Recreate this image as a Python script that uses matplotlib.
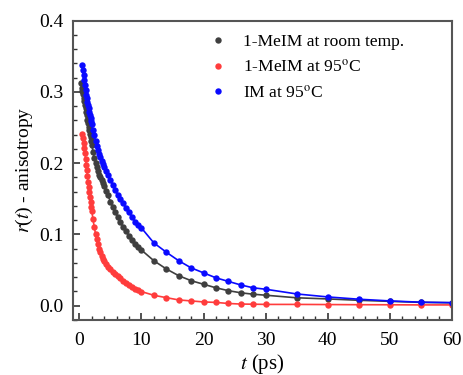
import numpy as np
import matplotlib
matplotlib.use('Agg')
import matplotlib.pyplot as plt
from matplotlib.ticker import MultipleLocator, FormatStrFormatter

plt.rcParams['font.family'] = ['Liberation Serif', 'DejaVu Serif']
plt.rcParams['mathtext.fontset'] = 'stix'

# 1-MeIM at room temperature
t_room = [0.3, 0.4, 0.5, 0.6, 0.7, 0.8, 0.9, 1.0, 1.1, 1.2, 1.3, 1.4, 1.5, 1.6, 1.7, 1.8, 1.9, 2.0,
          2.2, 2.4, 2.6, 2.8, 3.0, 3.2, 3.4, 3.6, 3.8, 4.0, 4.3, 4.6, 5.0, 5.4, 5.8, 6.2, 6.6, 7.0,
          7.5, 8.0, 8.5, 9.0, 9.5, 10, 12, 14, 16, 18, 20, 22, 24, 26, 28, 30, 35, 40, 45, 50, 55, 60]
r_room = [0.313, 0.306, 0.301, 0.297, 0.292, 0.287, 0.282, 0.277, 0.272, 0.267, 0.261, 0.256, 0.251,
          0.246, 0.241, 0.236, 0.231, 0.226, 0.216, 0.207, 0.200, 0.194, 0.189, 0.184, 0.180, 0.176,
          0.172, 0.168, 0.161, 0.155, 0.146, 0.138, 0.131, 0.124, 0.117, 0.111, 0.105, 0.098, 0.092,
          0.087, 0.082, 0.078, 0.063, 0.0515, 0.042, 0.035, 0.030, 0.025, 0.021, 0.018, 0.016, 0.0146,
          0.011, 0.0094, 0.0075, 0.006, 0.0046, 0.004]

# 1-MeIM at 95 C
t_hot = [0.5, 0.6, 0.7, 0.8, 0.9, 1.0, 1.1, 1.2, 1.3, 1.4, 1.5, 1.6, 1.7, 1.8, 1.9, 2.0,
         2.2, 2.4, 2.6, 2.8, 3.0, 3.2, 3.4, 3.6, 3.8, 4.0, 4.3, 4.6, 5.0, 5.4, 5.8, 6.2, 6.5, 7.0,
         7.5, 8.0, 8.5, 9.0, 9.5, 10, 12, 14, 16, 18, 20, 22, 24, 26, 28, 30, 35, 40, 45, 50, 55, 60]
r_hot = [0.241, 0.235, 0.228, 0.221, 0.214, 0.206, 0.198, 0.190, 0.182, 0.174, 0.167, 0.160, 0.153,
         0.146, 0.139, 0.133, 0.121, 0.110, 0.101, 0.093, 0.086, 0.080, 0.075, 0.070, 0.066, 0.062,
         0.058, 0.0545, 0.051, 0.0475, 0.044, 0.041, 0.0385, 0.035, 0.032, 0.029, 0.026, 0.024, 0.022,
         0.0197, 0.0145, 0.0112, 0.008, 0.0066, 0.0052, 0.0045, 0.003, 0.0022, 0.002, 0.0017, 0.0017,
         0.0015, 0.0013, 0.0012, 0.0010, 0.0010]

# IM at 95 C
t_im = [0.5, 0.6, 0.7, 0.8, 0.9, 1.0, 1.1, 1.2, 1.3, 1.4, 1.5, 1.6, 1.7, 1.8, 1.9, 2.0,
        2.2, 2.4, 2.6, 2.8, 3.0, 3.2, 3.4, 3.6, 3.8, 4.0, 4.3, 4.6, 5.0, 5.4, 5.8, 6.2, 6.6, 7.0,
        7.5, 8.0, 8.5, 9.0, 9.5, 10, 12, 14, 16, 18, 20, 22, 24, 26, 28, 30, 35, 40, 45, 50, 55, 60]
r_im = [0.338, 0.331, 0.324, 0.316, 0.309, 0.302, 0.296, 0.291, 0.286, 0.281, 0.277, 0.272, 0.268,
        0.264, 0.259, 0.255, 0.247, 0.239, 0.231, 0.224, 0.218, 0.213, 0.208, 0.203, 0.199, 0.195,
        0.189, 0.183, 0.176, 0.169, 0.162, 0.155, 0.149, 0.144, 0.137, 0.131, 0.124, 0.118, 0.113,
        0.109, 0.088, 0.075, 0.063, 0.053, 0.046, 0.039, 0.034, 0.029, 0.025, 0.023, 0.0164, 0.0122,
        0.009, 0.0066, 0.0048, 0.0042]

labels = ['1-MeIM at room temp.', '1-MeIM at 95$^{\\mathrm{o}}$C', 'IM at 95$^{\\mathrm{o}}$C']
colors = ['#3f3f3f', '#ff3c3c', '#0a0aff']

fig = plt.figure(figsize=(4.63, 3.75), dpi=100)
ax = fig.add_axes([0.158, 0.147, 0.818, 0.798])

for t, r, c, lab in zip([t_room, t_hot, t_im], [r_room, r_hot, r_im], colors, labels):
    ax.plot(t, r, '-', color=c, lw=1.2)
    ax.plot(t, r, 'o', color=c, ms=4.6, mec='none', label=lab)

ax.set_xlim(-1, 60)
ax.set_ylim(-0.02, 0.4)
ax.xaxis.set_major_locator(MultipleLocator(10))
ax.xaxis.set_minor_locator(MultipleLocator(2))
ax.yaxis.set_major_locator(MultipleLocator(0.1))
ax.yaxis.set_minor_locator(MultipleLocator(0.02))
ax.yaxis.set_major_formatter(FormatStrFormatter('%.1f'))

ax.tick_params(which='both', direction='in', top=False, right=False, labelsize=14, color='#333333')
ax.tick_params(which='major', length=5, width=1.2)
ax.tick_params(which='minor', length=3, width=1.0)
ax.tick_params(axis='x', which='major', pad=9)
ax.tick_params(axis='y', which='major', pad=7)
for s in ax.spines.values():
    s.set_color('#555555')
    s.set_linewidth(1.5)

ax.set_xlabel('$t$ (ps)', fontsize=15, labelpad=2)
ax.set_ylabel('$r$($t$) - anisotropy', fontsize=14, labelpad=3)

leg = ax.legend(loc='upper left', bbox_to_anchor=(0.359, 0.955), frameon=False, fontsize=12.6,
                handletextpad=0.95, handlelength=1.0, labelspacing=0.5, borderpad=0,
                borderaxespad=0)

fig.savefig('out.png', dpi=100)
